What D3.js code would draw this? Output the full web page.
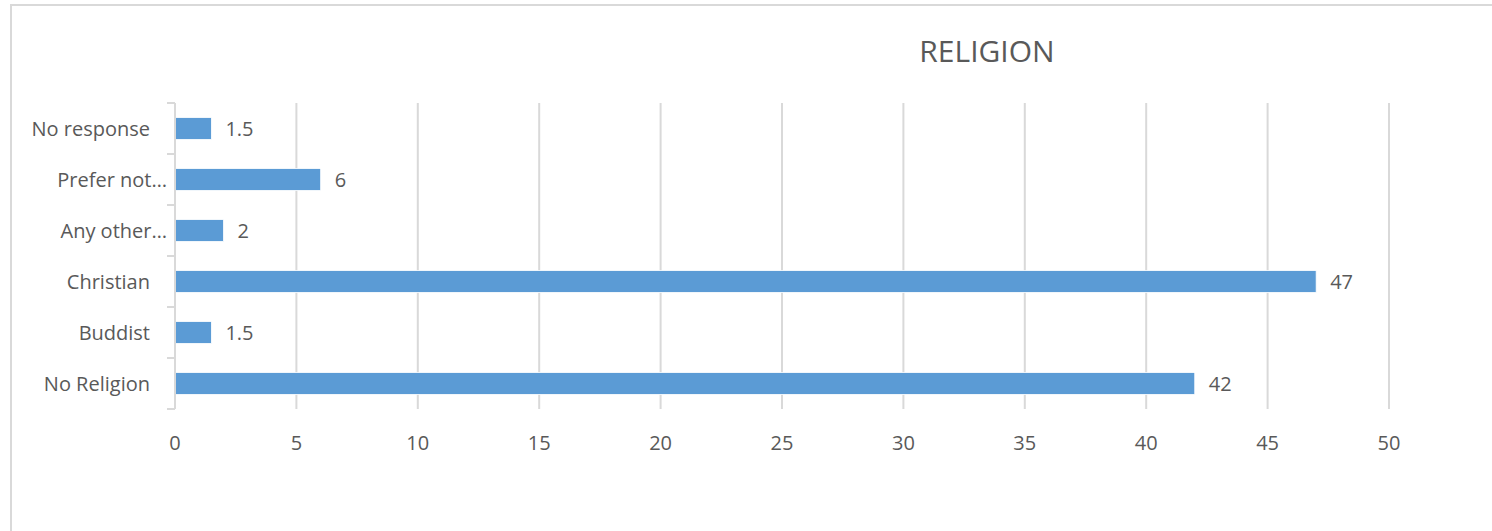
<!DOCTYPE html>
<html>
<head>
<meta charset="utf-8">
<script src="https://cdn.jsdelivr.net/npm/d3@7"></script>
<style>
  html, body { margin: 0; padding: 0; background: #fff; }
  svg text { font-family: "Open Sans", sans-serif; fill: #595959; }
</style>
</head>
<body>
<div id="chart"></div>
<script>
// Data (top to bottom as shown)
const categories = ["No response", "Prefer not…", "Any other…", "Christian", "Buddist", "No Religion"];
const values = [1.5, 6, 2, 47, 1.5, 42];
const xTicks = [0, 5, 10, 15, 20, 25, 30, 35, 40, 45, 50];
const title = "RELIGION";

const W = 1492, H = 531;
const margin = {top: 103, right: 103, bottom: 122, left: 175},
      width = W - margin.left - margin.right,
      height = H - margin.top - margin.bottom;

const root = d3.select("#chart")
  .append("svg")
    .attr("width", W)
    .attr("height", H);

// chart frame (runs off the right and bottom of the picture)
root.append("rect")
  .attr("x", 11).attr("y", 5)
  .attr("width", W + 20).attr("height", H + 20)
  .attr("fill", "none")
  .attr("stroke", "#d9d9d9")
  .attr("stroke-width", 2);

root.append("text")
  .attr("x", 987)
  .attr("y", 50)
  .attr("text-anchor", "middle")
  .attr("dominant-baseline", "central")
  .style("font-size", "30px")
  .text(title);

const svg = root.append("g")
  .attr("transform", `translate(${margin.left},${margin.top})`);

const x = d3.scaleLinear().domain([0, 50]).range([0, width]);
const y = d3.scaleBand().domain(categories).range([0, height]).paddingInner(0.57).paddingOuter(0.285);
const yTicks = d3.scaleBand().domain(categories).range([0, height]);

// vertical gridlines
svg.append("g")
  .selectAll("line")
  .data(xTicks.filter(d => d > 0))
  .enter().append("line")
    .attr("x1", d => x(d)).attr("x2", d => x(d))
    .attr("y1", 0).attr("y2", height)
    .attr("stroke", "#d9d9d9")
    .attr("stroke-width", 2);

// bars
svg.selectAll(".bar")
  .data(values)
  .enter().append("rect")
    .attr("class", "bar")
    .attr("x", 0)
    .attr("y", (d, i) => y(categories[i]))
    .attr("width", d => x(d))
    .attr("height", y.bandwidth())
    .attr("fill", "#5b9bd5")
    .attr("stroke", "#ffffff")
    .attr("stroke-width", 0.8);

// y axis line + tick marks at band edges
svg.append("line")
  .attr("x1", 0).attr("x2", 0)
  .attr("y1", 0).attr("y2", height)
  .attr("stroke", "#d9d9d9").attr("stroke-width", 2);

const edges = categories.map(c => yTicks(c)).concat([height]);
svg.append("g")
  .selectAll("line")
  .data(edges)
  .enter().append("line")
    .attr("x1", -8).attr("x2", 0)
    .attr("y1", d => d).attr("y2", d => d)
    .attr("stroke", "#d9d9d9").attr("stroke-width", 2);

// category labels
svg.append("g")
  .selectAll("text")
  .data(categories)
  .enter().append("text")
    .attr("x", d => d.endsWith("…") ? -8 : -25)
    .attr("y", d => y(d) + y.bandwidth() / 2)
    .attr("text-anchor", "end")
    .attr("dominant-baseline", "central")
    .style("font-size", "20px")
    .text(d => d);

// data labels
svg.append("g")
  .selectAll("text")
  .data(values)
  .enter().append("text")
    .attr("x", d => x(d) + 14)
    .attr("y", (d, i) => y(categories[i]) + y.bandwidth() / 2)
    .attr("dominant-baseline", "central")
    .style("font-size", "20px")
    .text(d => d);

// x tick labels
svg.append("g")
  .selectAll("text")
  .data(xTicks)
  .enter().append("text")
    .attr("x", d => x(d))
    .attr("y", height + 33)
    .attr("text-anchor", "middle")
    .attr("dominant-baseline", "central")
    .style("font-size", "20px")
    .text(d => d);
</script>
</body>
</html>
